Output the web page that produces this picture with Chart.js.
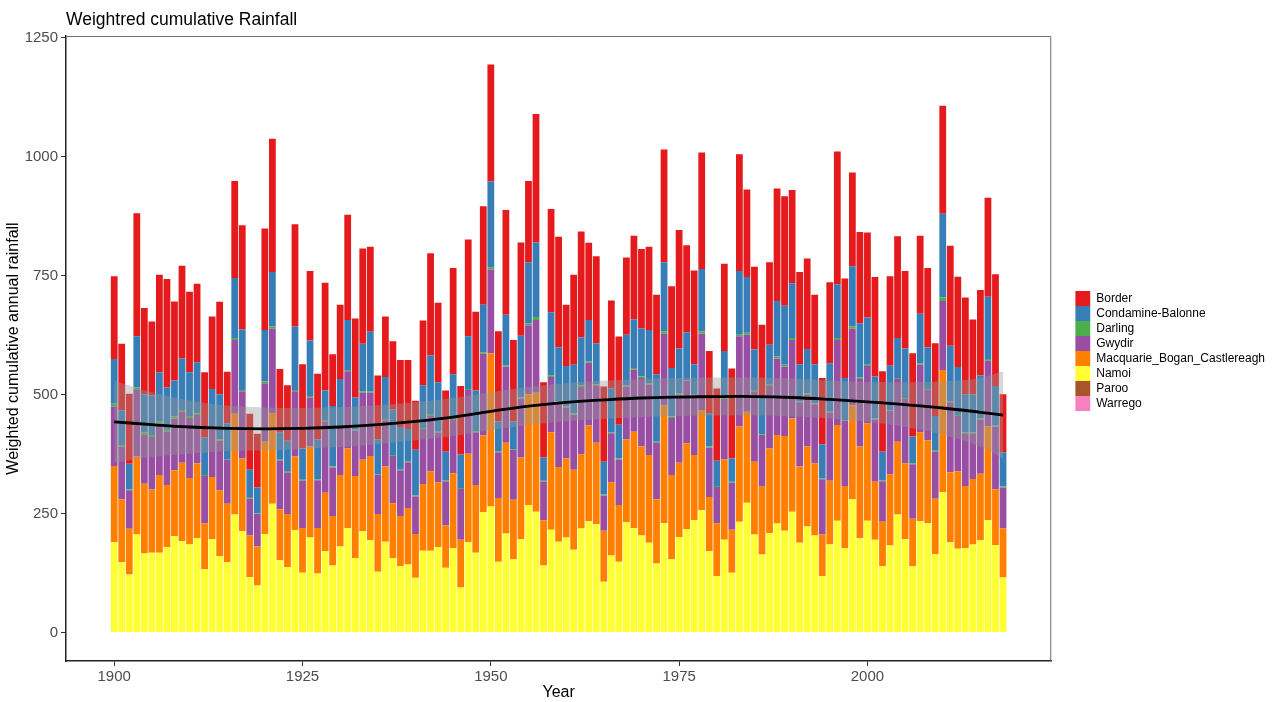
<!DOCTYPE html>
<html>
<head>
<meta charset="utf-8">
<script src="https://cdn.jsdelivr.net/npm/chart.js@4.4.0/dist/chart.umd.min.js"></script>
<style>
  html, body { margin: 0; padding: 0; background: #fff; }
  #wrap { width: 1282px; height: 702px; }
</style>
</head>
<body>
<div id="wrap"><canvas id="chart" width="1282" height="702"></canvas></div>
<script>
const years = [
  1900,1901,1902,1903,1904,1905,1906,1907,1908,1909,
  1910,1911,1912,1913,1914,1915,1916,1917,1918,1919,
  1920,1921,1922,1923,1924,1925,1926,1927,1928,1929,
  1930,1931,1932,1933,1934,1935,1936,1937,1938,1939,
  1940,1941,1942,1943,1944,1945,1946,1947,1948,1949,
  1950,1951,1952,1953,1954,1955,1956,1957,1958,1959,
  1960,1961,1962,1963,1964,1965,1966,1967,1968,1969,
  1970,1971,1972,1973,1974,1975,1976,1977,1978,1979,
  1980,1981,1982,1983,1984,1985,1986,1987,1988,1989,
  1990,1991,1992,1993,1994,1995,1996,1997,1998,1999,
  2000,2001,2002,2003,2004,2005,2006,2007,2008,2009,
  2010,2011,2012,2013,2014,2015,2016,2017,2018
];

const namoi = [
  190,148,122,206,166,168,168,180,203,192,
  185,199,133,196,161,148,248,213,117,99,
  207,271,152,138,215,126,200,124,171,141,
  181,220,157,213,194,128,191,157,140,143,
  115,172,172,180,136,178,95,190,168,253,
  265,149,208,154,196,268,254,141,216,191,
  200,174,219,234,228,107,162,149,232,220,
  204,189,145,230,154,201,217,236,257,171,
  119,195,126,233,273,206,164,209,229,214,
  254,189,223,204,119,185,235,178,280,199,
  235,195,140,183,248,196,140,234,230,165,
  295,190,176,178,185,194,236,184,116
];

const macquarie = [
  160,132,96,164,147,133,163,130,138,165,
  140,157,96,131,138,123,212,153,87,82,
  194,190,107,111,155,94,191,96,123,104,
  150,167,172,150,177,121,158,115,105,119,
  92,140,167,136,89,157,100,186,142,161,
  322,134,191,125,172,233,250,95,205,157,
  166,168,156,201,171,107,154,119,174,202,
  187,184,135,248,177,156,181,137,211,114,
  111,169,90,200,191,153,144,178,186,199,
  196,160,168,152,87,134,201,130,198,192,
  205,122,93,150,153,160,99,187,174,116,
  257,147,163,130,138,140,197,117,103
];

const gwydir = [
  125,111,81,140,104,110,108,112,109,107,
  126,101,100,99,104,92,155,141,78,68,
  123,178,102,87,137,99,103,100,150,102,
  100,162,95,141,133,82,97,99,96,96,
  79,116,116,104,93,112,107,134,111,172,
  176,96,160,105,124,145,153,81,116,135,
  107,116,141,132,121,74,103,96,111,131,
  144,148,119,150,120,143,131,125,160,104,
  76,127,99,190,162,148,107,131,161,146,
  165,135,109,124,116,143,179,137,161,142,
  120,131,85,133,132,135,115,142,106,99,
  145,147,116,111,96,114,138,132,86
];

const darling = [
  7,3,2,5,4,4,4,4,4,4,
  4,4,2,3,3,2,4,3,3,1,
  4,5,2,2,3,2,3,2,3,2,
  2,3,2,3,3,2,3,2,2,2,
  2,2,3,2,2,2,2,2,2,3,
  5,2,3,2,2,4,6,2,4,3,
  2,3,3,3,2,2,2,2,2,3,
  3,3,2,5,3,3,2,2,5,2,
  2,2,2,3,4,3,2,3,4,4,
  4,2,3,2,2,2,4,2,5,3,
  3,2,2,2,2,2,2,3,2,2,
  7,2,2,2,2,2,4,2,2
];

const condamine = [
  93,73,54,108,80,84,104,89,76,108,
  92,107,79,83,95,75,126,127,57,55,
  108,114,57,65,133,66,117,84,62,127,
  100,105,68,100,125,73,88,96,89,68,
  96,90,125,104,60,94,70,111,86,100,
  180,63,106,58,130,128,157,49,132,113,
  85,102,101,87,86,69,92,71,107,102,
  101,112,142,145,102,94,100,64,131,69,
  53,99,49,134,117,85,77,84,117,124,
  115,78,93,82,72,102,113,88,126,114,
  99,88,60,93,84,104,56,104,87,73,
  176,117,101,80,80,90,131,83,72
];

const border = [
  174,140,147,258,181,155,205,228,166,195,
  169,165,137,152,194,108,204,219,118,113,
  213,280,134,117,215,177,146,138,226,109,
  156,221,166,200,179,134,127,143,141,145,
  103,136,214,167,129,223,144,203,165,207,
  246,189,220,171,196,171,270,158,217,233,
  129,189,223,162,183,158,185,185,162,176,
  167,175,167,237,172,249,183,197,245,132,
  152,183,189,245,184,174,153,173,236,230,
  196,194,190,146,139,170,279,209,197,192,
  179,209,169,188,214,163,175,164,167,153,
  227,210,190,203,157,180,208,235,122
];

// Paroo and Warrego contribute nothing visible
const paroo = [];
const warrego = [];

// loess fit and its confidence band
const smoothYears = [1900,1905,1910,1915,1920,1925,1930,1935,1940,1945,1950,1955,1960,
                     1965,1970,1975,1980,1985,1990,1995,2000,2005,2010,2015,2018];
const smoothFit   = [443,437,432,429,428,429,432,437,444,453,465,476,484,
                     489,493,495,496,496,494,490,485,479,472,463,457];
const smoothUpper = [529,505,488,477,473,472,474,478,484,493,505,516,524,
                     529,533,535,536,536,534,530,527,526,528,535,549];
const smoothLower = [357,369,376,381,383,386,390,396,404,413,425,436,444,
                     449,453,455,456,456,454,450,443,432,416,391,365];

const xTicks = [1900, 1925, 1950, 1975, 2000];
const yTicks = [0, 250, 500, 750, 1000, 1250];

const FONT = "'Liberation Sans', Arial, sans-serif";
const Y_MIN = -59.7, Y_MAX = 1253.7;

function bars(label, data, color) {
  return {
    type: 'bar', label, data, backgroundColor: color, borderWidth: 0,
    barPercentage: 0.9, categoryPercentage: 1.0, order: 3
  };
}

function pts(vals) {
  return smoothYears.map((x, i) => ({ x, y: vals[i] }));
}

// grey top/right panel edges
const frame = {
  id: 'frame',
  afterDatasetsDraw(chart) {
    const { ctx, chartArea: a } = chart;
    ctx.save();
    ctx.strokeStyle = '#6e6e6e';
    ctx.lineWidth = 1;
    ctx.beginPath();
    ctx.moveTo(a.left, a.top + 0.5);
    ctx.lineTo(a.right - 0.5, a.top + 0.5);
    ctx.lineTo(a.right - 0.5, a.bottom);
    ctx.stroke();
    ctx.restore();
  }
};

new Chart(document.getElementById('chart'), {
  type: 'bar',
  data: {
    labels: years,
    datasets: [
      bars('Warrego', warrego, '#F781BF'),
      bars('Paroo', paroo, '#A65628'),
      bars('Namoi', namoi, '#FFFF33'),
      bars('Macquarie_Bogan_Castlereagh', macquarie, '#FF7F00'),
      bars('Gwydir', gwydir, '#984EA3'),
      bars('Darling', darling, '#4DAF4A'),
      bars('Condamine-Balonne', condamine, '#377EB8'),
      bars('Border', border, '#E41A1C'),
      {
        type: 'line', label: 'upper', data: pts(smoothUpper), yAxisID: 'y2',
        borderColor: 'rgba(0,0,0,0)', borderWidth: 0, pointRadius: 0,
        tension: 0.4, fill: false, order: 1
      },
      {
        type: 'line', label: 'lower', data: pts(smoothLower), yAxisID: 'y2',
        borderColor: 'rgba(0,0,0,0)', borderWidth: 0, pointRadius: 0,
        tension: 0.4, fill: '-1', backgroundColor: 'rgba(153,153,153,0.4)', order: 1
      },
      {
        type: 'line', label: 'fit', data: pts(smoothFit), yAxisID: 'y2',
        borderColor: '#000000', borderWidth: 2.8, pointRadius: 0,
        tension: 0.4, fill: false, order: 0
      }
    ]
  },
  options: {
    responsive: false,
    animation: false,
    devicePixelRatio: 1,
    layout: { padding: { right: 7 } },
    scales: {
      x: {
        type: 'linear', min: 1893.6, max: 2024.4, stacked: true, offset: false,
        afterBuildTicks: s => { s.ticks = xTicks.map(v => ({ value: v })); },
        afterFit: s => { s.height = 41; },
        ticks: {
          callback: v => String(v), color: '#4d4d4d', padding: 3,
          maxRotation: 0, font: { family: FONT, size: 15, lineHeight: 1 }
        },
        grid: {
          offset: false, drawOnChartArea: false, drawTicks: true,
          tickLength: 5, tickColor: '#333', tickWidth: 1
        },
        border: { display: true, color: '#222', width: 1.5 },
        title: {
          display: true, text: 'Year', color: '#000',
          font: { family: FONT, size: 16 }, padding: { top: 0, bottom: 0 }
        }
      },
      y: {
        type: 'linear', min: Y_MIN, max: Y_MAX, stacked: true,
        afterBuildTicks: s => { s.ticks = yTicks.map(v => ({ value: v })); },
        afterFit: s => { s.width = 66; },
        ticks: {
          callback: v => String(v), color: '#4d4d4d', padding: 3,
          font: { family: FONT, size: 15 }
        },
        grid: { drawOnChartArea: false, drawTicks: true, tickLength: 5, tickColor: '#333', tickWidth: 1 },
        border: { display: true, color: '#222', width: 1.5 },
        title: {
          display: true, text: 'Weighted cumulative annual rainfall', color: '#000',
          font: { family: FONT, size: 16 }, padding: { top: 4, bottom: 0 }
        }
      },
      y2: {
        type: 'linear', position: 'right', min: Y_MIN, max: Y_MAX, stacked: false,
        afterFit: s => { s.width = 24; },
        ticks: { display: false },
        grid: { display: false },
        border: { display: false }
      }
    },
    plugins: {
      title: {
        display: true, text: 'Weightred cumulative Rainfall', align: 'start',
        fullSize: false, color: '#000',
        font: { family: FONT, size: 17.5, weight: 'normal' },
        padding: { top: 10, bottom: 5 }
      },
      legend: {
        position: 'right', align: 'center',
        labels: {
          boxWidth: 15, boxHeight: 15, padding: 0, color: '#000',
          font: { family: FONT, size: 12 },
          filter: (item, data) => data.datasets[item.datasetIndex].type === 'bar',
          sort: (a, b) => b.datasetIndex - a.datasetIndex
        }
      },
      tooltip: { enabled: false }
    }
  },
  plugins: [frame]
});
</script>
</body>
</html>
